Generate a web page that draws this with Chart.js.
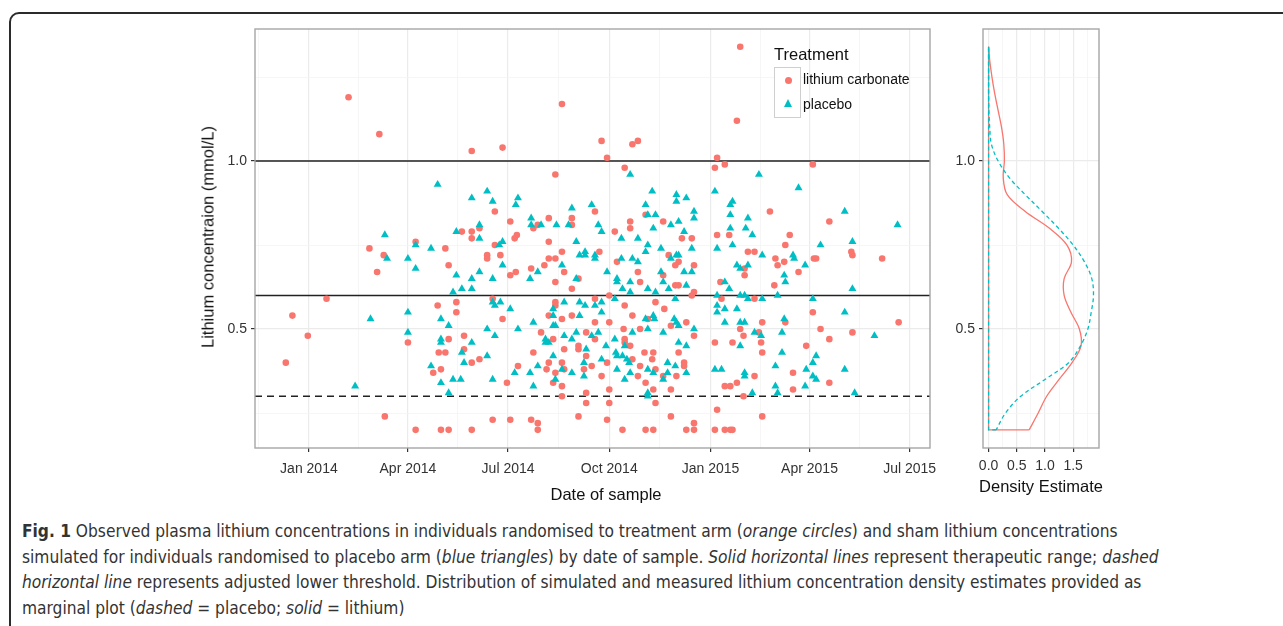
<!DOCTYPE html>
<html>
<head>
<meta charset="utf-8">
<script src="https://cdn.jsdelivr.net/npm/chart.js@4.4.1/dist/chart.umd.min.js"></script>
<style>
  html, body { margin: 0; padding: 0; background: #fff; }
  body { width: 1283px; height: 626px; position: relative; overflow: hidden; font-family: "Liberation Sans", Arial, sans-serif; }
  #frame { position: absolute; left: 9px; top: 12px; width: 1400px; height: 700px; border: 2px solid #2b2b2b; border-radius: 10px; }
  canvas { position: absolute; }
  #mainChart { left: 150px; top: 0; }
  #densChart { left: 940px; top: 0; }
  .axis-title { position: absolute; font-size: 16.5px; color: #111; white-space: nowrap; }
  #ytitle { left: 208px; top: 237px; transform: translate(-50%, -50%) rotate(-90deg); }
  #xtitle { left: 606px; top: 494px; transform: translate(-50%, -50%); }
  #dtitle { left: 1041px; top: 486px; transform: translate(-50%, -50%); }
  #legend { position: absolute; left: 774px; top: 42px; }
  #legend .title { font-size: 16.5px; color: #111; height: 25px; line-height: 25px; }
  #legend .row { position: relative; height: 25px; }
  #legend .key { position: absolute; left: 0; top: 0; width: 25px; height: 24px; border: 1px solid #cfcfcf; background: #fff; }
  #legend .row + .row .key { border-top: none; height: 25px; }
  #legend .lab { position: absolute; left: 29px; top: 0; line-height: 25px; font-size: 14px; color: #111; white-space: nowrap; }
  .dot { position: absolute; left: 10px; top: 9px; width: 7px; height: 7px; border-radius: 50%; background: #F8766D; }
  .tri { position: absolute; left: 9px; top: 7px; width: 0; height: 0; border-left: 4.5px solid transparent; border-right: 4.5px solid transparent; border-bottom: 8px solid #00BFC4; }
  #caption { position: absolute; left: 22px; top: 519px; font-family: "Liberation Sans Narrow", "DejaVu Sans Condensed", sans-serif; font-size: 17.2px; line-height: 25.6px; color: #333; white-space: nowrap; }
</style>
</head>
<body>
<div id="frame"></div>
<canvas id="mainChart" width="800" height="510"></canvas>
<canvas id="densChart" width="180" height="510"></canvas>
<div class="axis-title" id="ytitle">Lithium concentraion (mmol/L)</div>
<div class="axis-title" id="xtitle">Date of sample</div>
<div class="axis-title" id="dtitle">Density Estimate</div>
<div id="legend">
  <div class="title">Treatment</div>
  <div class="row"><div class="key"><span class="dot"></span></div><div class="lab">lithium carbonate</div></div>
  <div class="row"><div class="key"><span class="tri"></span></div><div class="lab">placebo</div></div>
</div>
<div id="caption">
<b>Fig. 1</b> Observed plasma lithium concentrations in individuals randomised to treatment arm (<i>orange circles</i>) and sham lithium concentrations<br>
simulated for individuals randomised to placebo arm (<i>blue triangles</i>) by date of sample. <i>Solid horizontal lines</i> represent therapeutic range; <i>dashed</i><br>
<i>horizontal line</i> represents adjusted lower threshold. Distribution of simulated and measured lithium concentration density estimates provided as<br>
marginal plot (<i>dashed</i> = placebo; <i>solid</i> = lithium)
</div>

<script>
// x-Werte: Tage seit 1. Januar 2014
var xTickDays = [0, 90, 181, 273, 365, 455, 546];
var xTickLabels = ["Jan 2014", "Apr 2014", "Jul 2014", "Oct 2014", "Jan 2015", "Apr 2015", "Jul 2015"];
var xMinorDays = [-45.5, 45, 135.5, 227, 319, 410, 500.5];
var yTickValues = [0.5, 1.0];
var yMinorValues = [0.25, 0.75, 1.25];

// Referenzlinien: therapeutischer Bereich und angepasste Untergrenze
var refLevels = [1.0, 0.6, 0.3];
var refDashed = [false, false, true];

// lithium carbonate (Kreise)
var lithiumDay = [
  36, 64, 148, 176, 230, 266, 271, 294, 299, 287, 224, 169, 183, 155, 208, 204, 218, 239, 239, 260,
  292, 292, 306, 322, 392, 389, 371, 369, 378, 458, 419, 473, 97, 55, 124, 68, 127, 62, 16, 134,
  117, 134, -15, -1, 141, 127, 90, 141, 118, 124, -21, 120, 113, 69, 97, 120, 127, 139, 148, 148,
  189, 187, 169, 162, 162, 174, 218, 230, 264, 218, 224, 214, 202, 232, 183, 188, 224, 245, 239, 278,
  339, 327, 336, 333, 280, 299, 322, 301, 333, 336, 167, 176, 211, 224, 224, 218, 230, 239, 260, 260,
  273, 287, 294, 273, 286, 301, 308, 315, 323, 343, 329, 222, 252, 260, 287, 287, 292, 245, 245, 232,
  204, 155, 148, 252, 294, 305, 313, 312, 341, 341, 336, 190, 218, 216, 230, 232, 224, 222, 230, 230,
  250, 257, 266, 271, 299, 301, 315, 306, 322, 334, 329, 313, 273, 252, 180, 252, 273, 315, 245, 271,
  329, 167, 183, 202, 208, 208, 285, 306, 313, 343, 148, 348, 371, 382, 437, 433, 399, 405, 424, 432,
  426, 459, 461, 493, 494, 521, 396, 396, 350, 445, 374, 423, 350, 348, 375, 405, 458, 412, 433, 536,
  350, 392, 395, 409, 465, 473, 494, 369, 385, 411, 412, 452, 405, 440, 389, 378, 383, 473, 440, 395,
  371, 412, 350, 350, 369, 378, 383, 385
];
var lithiumConc = [
  1.19, 1.08, 1.03, 1.04, 1.17, 1.06, 1.01, 1.05, 1.06, 0.98, 0.96, 0.85, 0.82, 0.80, 0.81, 0.80, 0.83, 0.83, 0.81, 0.85,
  0.82, 0.80, 0.84, 0.82, 1.34, 1.12, 1.01, 0.98, 0.99, 0.99, 0.85, 0.82, 0.76, 0.74, 0.74, 0.72, 0.69, 0.67, 0.59, 0.58,
  0.57, 0.55, 0.54, 0.48, 0.48, 0.47, 0.46, 0.44, 0.43, 0.43, 0.40, 0.38, 0.37, 0.24, 0.20, 0.20, 0.20, 0.79, 0.79, 0.77,
  0.78, 0.77, 0.75, 0.72, 0.71, 0.72, 0.76, 0.73, 0.73, 0.71, 0.71, 0.69, 0.68, 0.67, 0.66, 0.67, 0.64, 0.65, 0.62, 0.79,
  0.77, 0.72, 0.70, 0.69, 0.70, 0.67, 0.66, 0.64, 0.63, 0.63, 0.59, 0.53, 0.49, 0.58, 0.57, 0.54, 0.53, 0.54, 0.59, 0.52,
  0.60, 0.57, 0.54, 0.52, 0.50, 0.50, 0.53, 0.58, 0.56, 0.52, 0.51, 0.47, 0.49, 0.47, 0.47, 0.46, 0.45, 0.45, 0.44, 0.44,
  0.43, 0.41, 0.40, 0.42, 0.41, 0.43, 0.43, 0.41, 0.40, 0.39, 0.43, 0.39, 0.40, 0.38, 0.40, 0.38, 0.37, 0.34, 0.33, 0.30,
  0.38, 0.39, 0.36, 0.40, 0.36, 0.39, 0.38, 0.34, 0.36, 0.36, 0.32, 0.32, 0.32, 0.31, 0.34, 0.28, 0.28, 0.28, 0.24, 0.23,
  0.24, 0.23, 0.23, 0.23, 0.22, 0.20, 0.20, 0.20, 0.20, 0.20, 0.20, 0.77, 0.78, 0.78, 0.78, 0.75, 0.73, 0.73, 0.71, 0.70,
  0.69, 0.71, 0.71, 0.73, 0.72, 0.71, 0.68, 0.66, 0.69, 0.67, 0.64, 0.63, 0.61, 0.60, 0.59, 0.59, 0.55, 0.52, 0.52, 0.52,
  0.48, 0.50, 0.48, 0.49, 0.50, 0.47, 0.49, 0.46, 0.46, 0.46, 0.43, 0.45, 0.36, 0.37, 0.34, 0.33, 0.33, 0.34, 0.32, 0.30,
  0.26, 0.24, 0.22, 0.20, 0.20, 0.20, 0.20, 0.20
];

// placebo (Dreiecke)
var placeboDay = [
  117, 292, 148, 162, 167, 190, 188, 155, 202, 202, 211, 225, 239, 236, 257, 263, 312, 306, 308, 315,
  313, 329, 336, 334, 334, 343, 409, 369, 445, 385, 383, 350, 350, 383, 399, 383, 397, 487, 535, 69,
  134, 97, 111, 71, 90, 97, 134, 139, 131, 90, 56, 120, 127, 90, 120, 120, 139, 141, 111, 131,
  138, 120, 42, 127, 155, 176, 173, 176, 243, 246, 251, 251, 260, 260, 230, 208, 155, 148, 148, 167,
  201, 243, 266, 284, 299, 308, 320, 306, 329, 334, 336, 284, 294, 299, 320, 341, 271, 280, 280, 292,
  322, 285, 292, 308, 315, 327, 343, 341, 167, 169, 174, 183, 162, 169, 190, 204, 148, 222, 232, 222,
  222, 224, 246, 246, 251, 260, 266, 266, 278, 294, 306, 313, 314, 333, 332, 334, 336, 322, 308, 215,
  215, 218, 232, 239, 243, 257, 263, 278, 287, 270, 252, 222, 162, 266, 279, 280, 285, 289, 291, 326,
  333, 336, 343, 187, 201, 208, 230, 239, 224, 250, 250, 280, 287, 292, 308, 313, 322, 326, 343, 308,
  308, 204, 167, 403, 385, 371, 348, 465, 494, 412, 440, 441, 451, 389, 392, 399, 348, 432, 433, 378,
  382, 494, 371, 392, 396, 399, 412, 426, 458, 371, 371, 378, 389, 487, 378, 392, 396, 432, 350, 405,
  411, 430, 514, 392, 430, 461, 458, 424, 369, 375, 396, 396, 452, 458, 461, 487, 424, 451, 403, 426,
  496
];
var placeboConc = [
  0.93, 0.96, 0.89, 0.91, 0.88, 0.89, 0.87, 0.81, 0.83, 0.81, 0.81, 0.81, 0.86, 0.81, 0.87, 0.81, 0.91, 0.87, 0.84, 0.84,
  0.80, 0.81, 0.82, 0.90, 0.88, 0.89, 0.96, 0.91, 0.92, 0.88, 0.87, 0.85, 0.83, 0.84, 0.83, 0.80, 0.80, 0.85, 0.81, 0.78,
  0.79, 0.75, 0.74, 0.71, 0.71, 0.68, 0.66, 0.62, 0.61, 0.55, 0.53, 0.53, 0.51, 0.49, 0.47, 0.46, 0.43, 0.40, 0.39, 0.35,
  0.35, 0.34, 0.33, 0.31, 0.77, 0.76, 0.75, 0.69, 0.76, 0.72, 0.73, 0.72, 0.72, 0.71, 0.69, 0.67, 0.67, 0.65, 0.62, 0.65,
  0.65, 0.65, 0.79, 0.77, 0.77, 0.75, 0.74, 0.73, 0.71, 0.72, 0.72, 0.71, 0.71, 0.70, 0.67, 0.67, 0.67, 0.65, 0.64, 0.64,
  0.64, 0.62, 0.61, 0.62, 0.61, 0.62, 0.63, 0.79, 0.58, 0.57, 0.58, 0.56, 0.50, 0.48, 0.50, 0.52, 0.46, 0.56, 0.58, 0.54,
  0.51, 0.51, 0.58, 0.54, 0.57, 0.57, 0.58, 0.55, 0.59, 0.49, 0.53, 0.54, 0.53, 0.59, 0.53, 0.52, 0.51, 0.49, 0.50, 0.47,
  0.46, 0.46, 0.48, 0.47, 0.49, 0.48, 0.49, 0.47, 0.45, 0.45, 0.44, 0.42, 0.42, 0.41, 0.43, 0.42, 0.42, 0.41, 0.40, 0.40,
  0.39, 0.46, 0.45, 0.37, 0.37, 0.39, 0.38, 0.37, 0.35, 0.40, 0.36, 0.38, 0.35, 0.37, 0.38, 0.37, 0.35, 0.37, 0.37, 0.31,
  0.30, 0.33, 0.35, 0.78, 0.75, 0.74, 0.74, 0.75, 0.76, 0.72, 0.72, 0.71, 0.69, 0.69, 0.68, 0.69, 0.67, 0.66, 0.64, 0.64,
  0.62, 0.62, 0.60, 0.60, 0.60, 0.59, 0.59, 0.60, 0.59, 0.57, 0.55, 0.56, 0.56, 0.55, 0.52, 0.52, 0.52, 0.53, 0.50, 0.49,
  0.48, 0.49, 0.48, 0.45, 0.43, 0.42, 0.40, 0.39, 0.38, 0.38, 0.37, 0.36, 0.38, 0.36, 0.35, 0.38, 0.33, 0.33, 0.31, 0.31,
  0.31
];

// Dichteschätzung (Randplot)
var densityConc = [1.34, 1.30, 1.25, 1.20, 1.15, 1.10, 1.05, 1.00, 0.95, 0.90, 0.85, 0.80,
                   0.75, 0.70, 0.65, 0.60, 0.55, 0.50, 0.45, 0.40, 0.35, 0.30, 0.25, 0.20];
var lithiumDensity = [0, 0.02, 0.06, 0.11, 0.17, 0.23, 0.27, 0.28, 0.26, 0.33, 0.65, 1.08,
                      1.39, 1.47, 1.34, 1.34, 1.46, 1.61, 1.64, 1.48, 1.25, 1.03, 0.88, 0.72];
var placeboDensity = [0, 0, 0, 0, 0.005, 0.02, 0.05, 0.17, 0.37, 0.65, 0.95, 1.24,
                      1.50, 1.70, 1.83, 1.86, 1.82, 1.76, 1.63, 1.42, 1.00, 0.57, 0.30, 0.135];
var densTickValues = [0, 0.5, 1.0, 1.5];
var densMinorValues = [0.25, 0.75, 1.25, 1.75];

var RED = "#F8766D";
var CYAN = "#00BFC4";
var X_MIN = -49, X_MAX = 564.5;
var Y_MIN = 0.146, Y_MAX = 1.393;
var TICK_FONT = { family: "Liberation Sans, Arial, sans-serif", size: 14 };
var TICK_COLOR = "#333";

function zipPoints(xs, ys) {
  return xs.map(function (x, i) { return { x: x, y: ys[i] }; });
}

function isIn(list, v) {
  return list.some(function (t) { return Math.abs(t - v) < 1e-6; });
}

// Gitterlinien im Stil von theme_bw
function gridOptions(major) {
  return {
    color: function (c) { return isIn(major, c.tick.value) ? "#ebebeb" : "#f4f4f4"; },
    lineWidth: function (c) { return isIn(major, c.tick.value) ? 1.2 : 0.8; },
    tickColor: function (c) { return isIn(major, c.tick.value) ? "#333" : "rgba(0,0,0,0)"; },
    tickLength: 4,
    drawTicks: true
  };
}

function setTicks(major, minor) {
  return function (scale) {
    var all = major.concat(minor).filter(function (v) { return v >= scale.min && v <= scale.max; });
    all.sort(function (a, b) { return a - b; });
    scale.ticks = all.map(function (v) { return { value: v }; });
  };
}

// Rahmen um das Panel
var panelBorder = {
  id: "panelBorder",
  afterDraw: function (chart) {
    var a = chart.chartArea, ctx = chart.ctx;
    ctx.save();
    ctx.strokeStyle = "#a6a6a6";
    ctx.lineWidth = 1.4;
    ctx.strokeRect(a.left, a.top, a.right - a.left, a.bottom - a.top);
    ctx.restore();
  }
};

var refDatasets = refLevels.map(function (lv, i) {
  return {
    type: "line",
    data: [{ x: X_MIN, y: lv }, { x: X_MAX, y: lv }],
    borderColor: "#222",
    borderWidth: 1.6,
    borderDash: refDashed[i] ? [7, 5] : [],
    pointRadius: 0,
    order: 10
  };
});

new Chart(document.getElementById("mainChart").getContext("2d"), {
  type: "scatter",
  data: {
    datasets: [
      {
        label: "lithium carbonate",
        data: zipPoints(lithiumDay, lithiumConc),
        pointStyle: "circle",
        pointRadius: 3.3,
        backgroundColor: RED,
        borderWidth: 0,
        order: 2
      },
      {
        label: "placebo",
        data: zipPoints(placeboDay, placeboConc),
        pointStyle: "triangle",
        pointRadius: 4.6,
        backgroundColor: CYAN,
        borderWidth: 0,
        order: 1
      }
    ].concat(refDatasets)
  },
  options: {
    responsive: false,
    animation: false,
    layout: { padding: { top: 29, right: 20, left: 0, bottom: 0 } },
    plugins: { legend: { display: false }, tooltip: { enabled: false } },
    scales: {
      x: {
        type: "linear",
        min: X_MIN,
        max: X_MAX,
        afterBuildTicks: setTicks(xTickDays, xMinorDays),
        afterFit: function (s) { s.height = 62; },
        grid: gridOptions(xTickDays),
        border: { display: false },
        ticks: {
          autoSkip: false,
          maxRotation: 0,
          padding: 9,
          color: TICK_COLOR,
          font: TICK_FONT,
          callback: function (v) {
            var i = xTickDays.indexOf(v);
            return i >= 0 ? xTickLabels[i] : "";
          }
        }
      },
      y: {
        type: "linear",
        min: Y_MIN,
        max: Y_MAX,
        afterBuildTicks: setTicks(yTickValues, yMinorValues),
        afterFit: function (s) { s.width = 105; },
        grid: gridOptions(yTickValues),
        border: { display: false },
        ticks: {
          autoSkip: false,
          padding: 4,
          color: TICK_COLOR,
          font: TICK_FONT,
          callback: function (v) { return isIn(yTickValues, v) ? v.toFixed(1) : ""; }
        }
      }
    }
  },
  plugins: [panelBorder]
});

// Dichtekurven mit geschlossener Grundlinie bei 0 (wie geom_density)
function densityOutline(dens) {
  var last = densityConc.length - 1;
  return [
    { x: dens[last], y: densityConc[last] },
    { x: 0, y: densityConc[last] },
    { x: 0, y: densityConc[0] },
    { x: dens[0], y: densityConc[0] }
  ];
}

new Chart(document.getElementById("densChart").getContext("2d"), {
  type: "scatter",
  data: {
    datasets: [
      {
        type: "line",
        data: zipPoints(placeboDensity, densityConc),
        borderColor: CYAN,
        borderWidth: 1.3,
        borderDash: [4, 3],
        pointRadius: 0,
        tension: 0.35,
        order: 1
      },
      {
        type: "line",
        data: densityOutline(placeboDensity),
        borderColor: CYAN,
        borderWidth: 1.3,
        borderDash: [4, 3],
        pointRadius: 0,
        order: 1
      },
      {
        type: "line",
        data: zipPoints(lithiumDensity, densityConc),
        borderColor: RED,
        borderWidth: 1.3,
        pointRadius: 0,
        tension: 0.35,
        order: 2
      },
      {
        type: "line",
        data: densityOutline(lithiumDensity),
        borderColor: RED,
        borderWidth: 1.3,
        pointRadius: 0,
        order: 2
      }
    ]
  },
  options: {
    responsive: false,
    animation: false,
    layout: { padding: { top: 29, right: 21, left: 0, bottom: 0 } },
    plugins: { legend: { display: false }, tooltip: { enabled: false } },
    scales: {
      x: {
        type: "linear",
        min: -0.099,
        max: 1.958,
        afterBuildTicks: setTicks(densTickValues, densMinorValues),
        afterFit: function (s) { s.height = 62; },
        grid: gridOptions(densTickValues),
        border: { display: false },
        ticks: {
          autoSkip: false,
          maxRotation: 0,
          padding: 6,
          color: TICK_COLOR,
          font: TICK_FONT,
          callback: function (v) { return isIn(densTickValues, v) ? v.toFixed(1) : ""; }
        }
      },
      y: {
        type: "linear",
        min: Y_MIN,
        max: Y_MAX,
        afterBuildTicks: setTicks(yTickValues, yMinorValues),
        afterFit: function (s) { s.width = 43; },
        grid: gridOptions(yTickValues),
        border: { display: false },
        ticks: {
          autoSkip: false,
          padding: 4,
          color: TICK_COLOR,
          font: TICK_FONT,
          callback: function (v) { return isIn(yTickValues, v) ? v.toFixed(1) : ""; }
        }
      }
    }
  },
  plugins: [panelBorder]
});
</script>
</body>
</html>
